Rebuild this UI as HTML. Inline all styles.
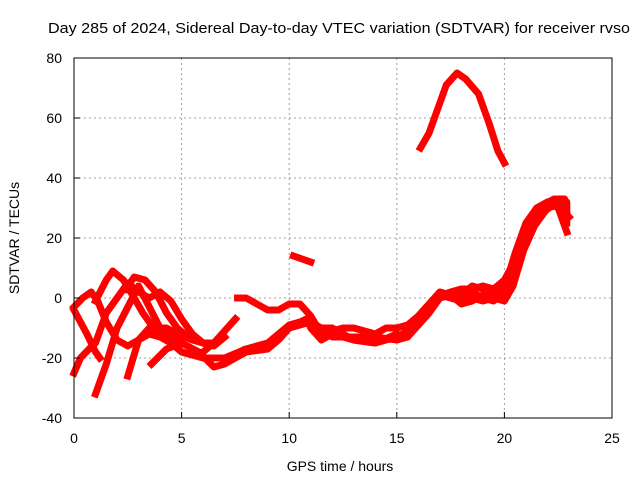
<!DOCTYPE html>
<html><head><meta charset="utf-8"><style>
body{margin:0;background:#fff}
svg{display:block;font-family:"Liberation Sans",sans-serif}
</style></head><body>
<svg id="chart" width="640" height="480">
<text x="339" y="33" font-size="15" text-anchor="middle" textLength="582" lengthAdjust="spacingAndGlyphs">Day 285 of 2024, Sidereal Day-to-day VTEC variation (SDTVAR) for receiver rvso</text>
<g id="grid"></g>
<g id="series"></g>
<rect x="74" y="58" width="538" height="360" fill="none" stroke="#000" stroke-width="1"/>
<g id="axes"></g>
<text x="340" y="471" font-size="14" text-anchor="middle">GPS time / hours</text>
<text transform="translate(19,238) rotate(-90)" font-size="14" text-anchor="middle">SDTVAR / TECUs</text>
</svg>
<script>
const xTicks=[0,5,10,15,20,25];
const yTicks=[-40,-20,0,20,40,60,80];
const track1=[[0,-3],[0.4,0],[0.8,2],[1.1,-1],[1.5,-8],[2,-14],[2.5,-16],[3,-14],[3.5,-12],[4,-13],[4.5,-15],[5,-18],[5.5,-19],[6,-18],[6.5,-15],[7,-11],[7.5,-7]];
const track2=[[0,-4],[0.3,-8],[0.6,-12],[1,-18],[1.2,-20]];
const track3=[[0,-25],[0.3,-20],[0.7,-17],[1,-15],[1.5,-5],[1.8,-2],[2,0],[2.5,5],[3,2],[3.5,0],[4,2],[4.5,-1],[5,-7],[5.5,-12],[6,-15],[6.5,-16],[7,-13]];
const track4=[[1,-32],[1.5,-22],[2,-10],[2.5,-3],[3,4],[3.5,-3],[4,-10],[4.5,-14],[5,-18],[6,-20],[7,-20],[8,-17],[9,-16],[10,-10]];
const track5=[[1,-1],[1.5,6],[1.8,9],[2.3,6],[2.8,0],[3.2,-5],[3.7,-10],[4.3,-10],[4.8,-12],[5.5,-14],[6,-15],[6.5,-15]];
const track6=[[2.5,-26],[3,-14],[3.5,-10],[4,-11],[4.5,-13],[5,-14]];
const track7=[[2.4,3],[2.8,7],[3.3,6],[3.8,2],[4.3,-5],[4.8,-10],[5.3,-13],[6,-15]];
const track8=[[3.6,-22],[4.3,-17],[5,-15],[5.8,-18],[6.5,-23],[7,-22],[7.5,-20],[8,-18],[9,-17],[9.5,-14],[10,-10],[11,-8],[11.5,-10],[12,-13],[13,-13],[14,-13],[15,-14],[15.5,-13],[16,-9],[16.5,-5],[17,0],[17.5,1],[18,-2],[18.5,-1],[19,1],[20,0],[20.5,12],[21,22],[21.5,30],[22,32],[22.5,33],[22.8,30]];
const track9=[[7.6,0],[8,0],[8.5,-2],[9,-4],[9.5,-4],[10,-2],[10.5,-2],[11,-6],[11.5,-12],[12,-11],[12.5,-10],[13,-10],[14,-12],[14.5,-10],[15,-10],[15.5,-9],[16,-6],[16.5,-2],[17,2],[17.5,1],[18,1],[18.5,4],[19,3],[19.5,2],[20,3],[20.5,15],[21,25],[21.5,30],[22,32],[22.5,30],[22.9,22]];
const track10=[[10.2,14],[10.6,13],[11,12]];
const track11=[[16.1,50],[16.5,55],[17,65],[17.3,71],[17.8,75],[18.2,73],[18.8,68],[19.3,58],[19.7,49],[20,45]];
const track12=[[8,-17],[9,-15],[10,-9],[10.5,-8],[10.8,-7],[11,-10],[11.5,-14],[12,-12],[13,-14],[14,-15],[15,-13],[16,-9],[16.5,-4],[17,1],[17.5,0],[18,-1],[18.5,2],[19,0],[19.5,-1],[20,2],[20.5,10],[21,20],[21.5,28],[22,30],[22.5,31],[23,27]];
const track13=[[11.2,-10],[12,-10],[13,-14],[14,-15],[15,-12]];
const track14=[[17.5,2],[18,3],[18.5,3],[19,4],[19.5,3],[20,6],[20.3,10],[20.8,20],[21.3,28],[21.8,31],[22.3,33],[22.8,33],[22.9,28]];
const track15=[[18,-1],[18.5,0],[19,-1],[19.5,0],[20,-1],[20.4,4],[20.9,16],[21.4,24],[21.9,29],[22.4,32],[22.9,32],[22.9,25]];
const tracks=[track1,track2,track3,track4,track5,track6,track7,track8,track9,track10,track11,track12,track13,track14,track15];

const NS="http://www.w3.org/2000/svg";
const X0=74,X1=612,Y0=418,Y1=58;
function xs(v){return X0+(v-0)/(25-0)*(X1-X0);}
function ys(v){return Y0-(v+40)/(80+40)*(Y0-Y1);}
function mk(t,a){const e=document.createElementNS(NS,t);for(const k in a)e.setAttribute(k,a[k]);return e;}
const grid=document.getElementById('grid'),axes=document.getElementById('axes'),ser=document.getElementById('series');
xTicks.forEach(t=>{
  const x=xs(t);
  if(t>0&&t<25){const l=mk('line',{x1:x,y1:Y1,x2:x,y2:Y0,stroke:'#a0a0a0','stroke-dasharray':'2,3'});
  
  grid.appendChild(l);}
  const tk=mk('line',{x1:x,y1:Y0,x2:x,y2:Y0-6,stroke:'#000'});
  
  axes.appendChild(tk);
  const tx=mk('text',{x:x,y:443,'font-size':14,'text-anchor':'middle'});tx.textContent=t;
  
  axes.appendChild(tx);
});
yTicks.forEach(t=>{
  const y=ys(t);
  if(t>-40&&t<80){const l=mk('line',{x1:X0,y1:y,x2:X1,y2:y,stroke:'#a0a0a0','stroke-dasharray':'2,3'});
  
  grid.appendChild(l);}
  const tk=mk('line',{x1:X0,y1:y,x2:X0+6,y2:y,stroke:'#000'});
  
  axes.appendChild(tk);
  const tx=mk('text',{x:62,y:y+5,'font-size':14,'text-anchor':'end'});tx.textContent=t;
  
  axes.appendChild(tx);
});
tracks.forEach((tr,i)=>{
  const p=mk('polyline',{points:tr.map(d=>xs(d[0])+','+ys(d[1])).join(' '),fill:'none',stroke:'#ff0000','stroke-width':7,'stroke-linejoin':'round','stroke-linecap':'square'});
  
  
  ser.appendChild(p);
});
</script>
</body></html>
